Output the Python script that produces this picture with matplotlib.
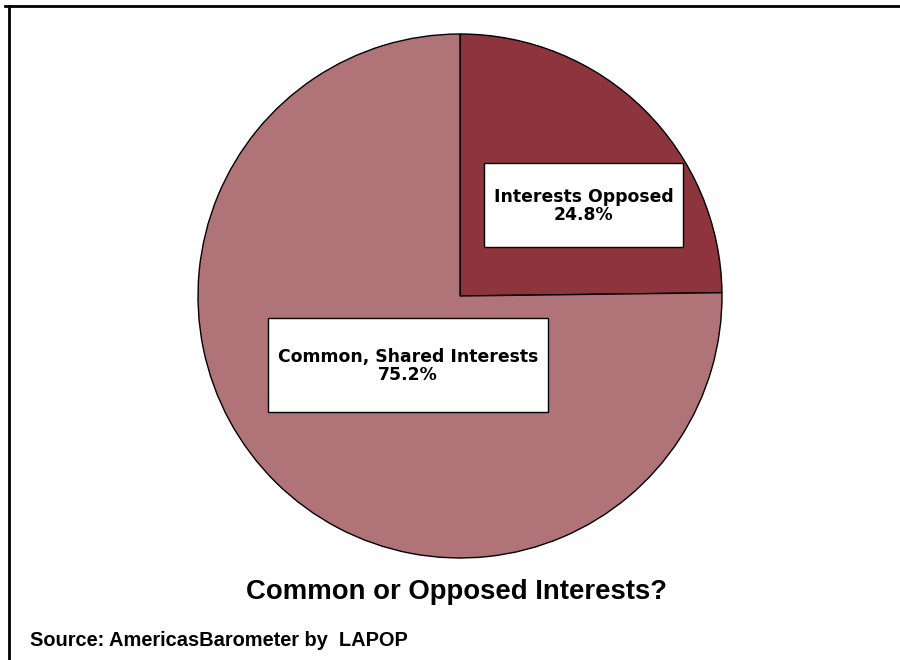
import matplotlib.pyplot as plt
from matplotlib.patches import Rectangle

# data
labels = ['Interests Opposed', 'Common, Shared Interests']
shares = [24.8, 75.2]
colors = ['#8E343C', '#B07377']
title = 'Common or Opposed Interests?'
source = 'Source: AmericasBarometer by  LAPOP'

fig = plt.figure(figsize=(9, 6.6), dpi=100)
ax = fig.add_axes([0, 0, 1, 1])

ax.pie(shares, colors=colors, startangle=90, counterclock=False,
       center=(460, 364), radius=262, frame=True,
       wedgeprops=dict(edgecolor='black', linewidth=1))
ax.set_xlim(0, 900)
ax.set_ylim(0, 660)
ax.set_aspect('auto')
ax.axis('off')

# label boxes (x0, y0, w, h) in pixel coords, y from bottom
boxes = [(484, 660 - 247, 199, 84), (268, 660 - 412, 280, 94)]
for (x0, y0, w, h), lab, val in zip(boxes, labels, shares):
    ax.add_patch(Rectangle((x0, y0), w, h, facecolor='white',
                           edgecolor='black', linewidth=1, zorder=3))
    ax.text(x0 + w / 2, y0 + h / 2 - 1, f'{lab}\n{val:.1f}%',
            ha='center', va='center', fontsize=12.4, fontweight='bold',
            family='DejaVu Sans', linespacing=1.02, zorder=4)

ax.text(456, 660 - 592, title, ha='center', va='center',
        fontsize=19.8, fontweight='bold', family='Liberation Sans')
ax.text(30, 660 - 641, source, ha='left', va='center',
        fontsize=14.4, fontweight='bold', family='Liberation Sans')

# frame lines (top and left)
ax.plot([5, 900], [654, 654], color='black', linewidth=2, clip_on=False)
ax.plot([9, 9], [654, 0], color='black', linewidth=2, clip_on=False)

fig.savefig('out.png', dpi=100)
